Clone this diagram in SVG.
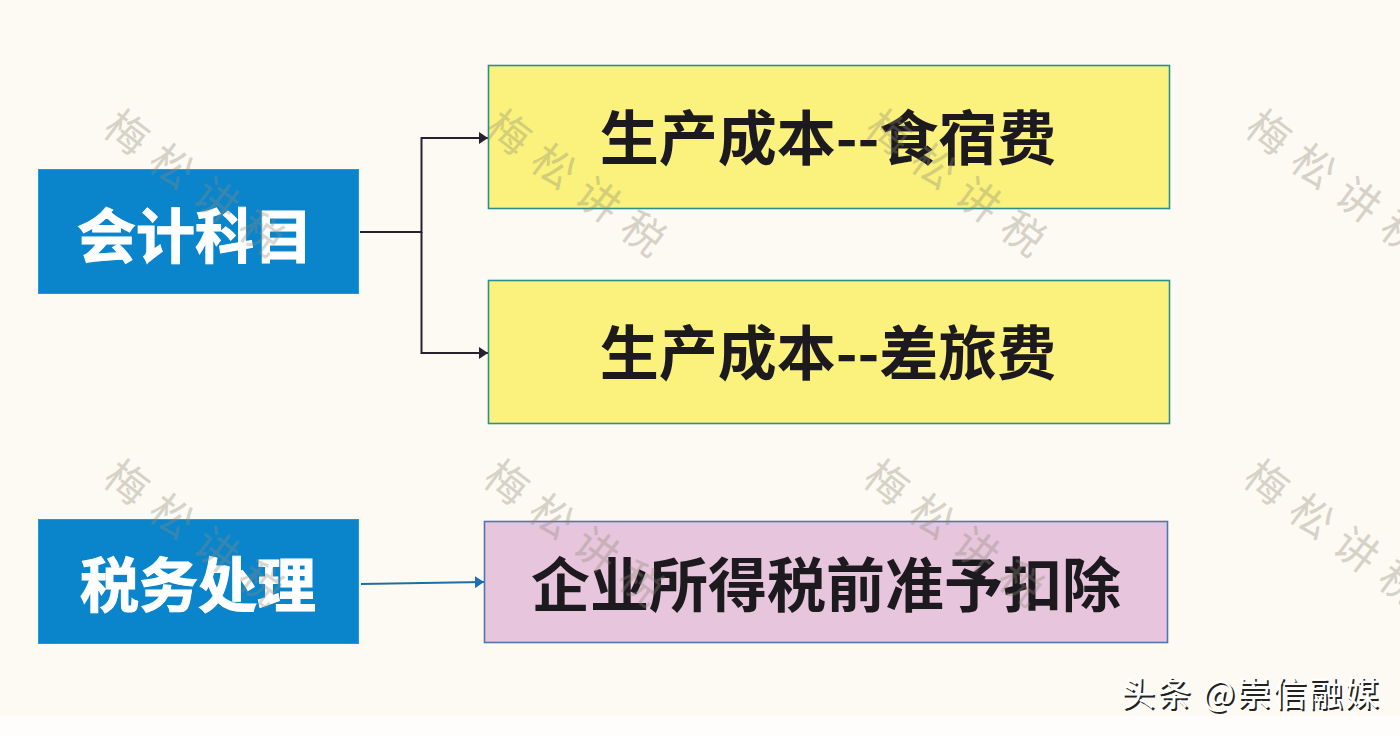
<svg xmlns="http://www.w3.org/2000/svg" width="1400" height="736" viewBox="0 0 1400 736">
<style>
text{font-family:"Noto Sans CJK SC","Noto Sans",sans-serif}
.lbl{font-size:59px;font-weight:700;text-anchor:middle;dominant-baseline:central}
.w{fill:#fff;stroke:#fff;stroke-width:1}
.d{fill:#1d1a1f}
.blue{fill:#0a85cc;stroke:#1a9be0;stroke-width:1}
.yel{fill:#faf27c;stroke:#2a8f8f;stroke-width:1.6}
.pink{fill:#e7c5dc;stroke:#4f76ae;stroke-width:1.6}
.wm{font-size:42px;fill:#8d8878;opacity:.34;letter-spacing:14px}
.ln{fill:none;stroke:#25222e;stroke-width:2}
.cr{font-size:34px;letter-spacing:2px}
</style>
<defs>
<marker id="a" markerUnits="userSpaceOnUse" markerWidth="10" markerHeight="12" refX="9" refY="6" orient="auto"><path d="M0 0L9 6L0 12Z" fill="#25222e"/></marker>
<marker id="b" markerUnits="userSpaceOnUse" markerWidth="10" markerHeight="12" refX="9" refY="6" orient="auto"><path d="M0 0L9 6L0 12Z" fill="#1c6fb0"/></marker>
</defs>
<rect width="1400" height="736" fill="#fdfaf3"/>
<rect y="716" width="1400" height="20" fill="#fefdfb"/>
<g id="connectors">
<path class="ln" d="M360 232H421.500V138H488" marker-end="url(#a)"/>
<path class="ln" d="M421.500 232V353H488" marker-end="url(#a)"/>
<path d="M361 584L484 582" fill="none" stroke="#1c6fa0" stroke-width="2" marker-end="url(#b)"/>
</g>
<g id="node-kjkm"><rect class="blue" x="38.500" y="169.500" width="320" height="124"/><text class="lbl w" x="195" y="232">会计科目</text></g>
<g id="node-swcl"><rect class="blue" x="38.500" y="519.500" width="320" height="124"/><text class="lbl w" x="198" y="581">税务处理</text></g>
<g id="node-ssf"><rect class="yel" x="488.500" y="65.500" width="681" height="143"/><text class="lbl d" x="828" y="134">生产成本--食宿费</text></g>
<g id="node-clf"><rect class="yel" x="488.500" y="280.500" width="681" height="143"/><text class="lbl d" x="828" y="349">生产成本--差旅费</text></g>
<g id="node-kc"><rect class="pink" x="484.500" y="521.500" width="683" height="121"/><text class="lbl d" x="826" y="581">企业所得税前准予扣除</text></g>
<g id="watermarks">
<text class="wm" transform="translate(101 132) rotate(37)">梅松讲税</text>
<text class="wm" transform="translate(483 132) rotate(37)">梅松讲税</text>
<text class="wm" transform="translate(863 132) rotate(37)">梅松讲税</text>
<text class="wm" transform="translate(1243 132) rotate(37)">梅松讲税</text>
<text class="wm" transform="translate(101 482) rotate(37)">梅松讲税</text>
<text class="wm" transform="translate(481 482) rotate(37)">梅松讲税</text>
<text class="wm" transform="translate(861 482) rotate(37)">梅松讲税</text>
<text class="wm" transform="translate(1241 482) rotate(37)">梅松讲税</text>
</g>
<g id="credit">
<text class="cr" x="1122.800" y="707.800" fill="#222">头条 @崇信融媒</text>
<text class="cr" x="1121" y="706" fill="#fff">头条 @崇信融媒</text>
</g>
</svg>
